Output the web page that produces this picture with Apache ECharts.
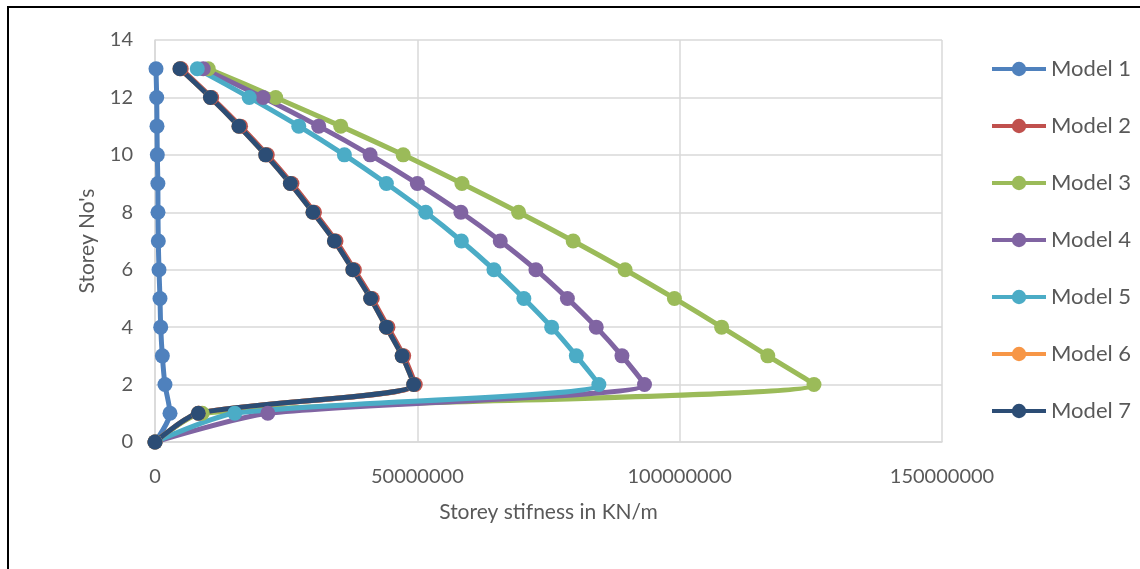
<!DOCTYPE html>
<html>
<head>
<meta charset="utf-8">
<script src="https://cdn.jsdelivr.net/npm/echarts@6/dist/echarts.min.js"></script>
<style>
  html, body { margin: 0; padding: 0; background: #fff; }
  #chart { width: 1140px; height: 569px; }
</style>
</head>
<body>
<div id="chart"></div>
<script>
// Storey numbers (y) from ground to roof
const storeys = [0, 1, 2, 3, 4, 5, 6, 7, 8, 9, 10, 11, 12, 13];

// Storey stiffness (KN/m) for each model, storey 0 .. 13
const model1 = [0, 2860000, 1900000, 1400000, 1090000, 950000, 760000, 630000, 570000, 550000, 440000, 380000, 320000, 190000];
const model2 = [0, 8400000, 49600000, 47400000, 44400000, 41400000, 38000000, 34500000, 30400000, 26100000, 21400000, 16300000, 10800000, 5000000];
const model3 = [0, 9000000, 125600000, 116800000, 108000000, 99000000, 89600000, 79700000, 69300000, 58500000, 47300000, 35400000, 23000000, 10150000];
const model4 = [0, 21500000, 93300000, 89000000, 84100000, 78600000, 72600000, 65800000, 58300000, 50000000, 41000000, 31200000, 20600000, 9200000];
const model5 = [0, 15200000, 84600000, 80300000, 75600000, 70300000, 64600000, 58400000, 51600000, 44100000, 36100000, 27400000, 17960000, 8060000];
const model6 = [0, 8250000, 49300000, 47100000, 44100000, 41100000, 37700000, 34200000, 30100000, 25800000, 21100000, 16000000, 10570000, 4760000];
const model7 = [0, 8250000, 49300000, 47100000, 44100000, 41100000, 37700000, 34200000, 30100000, 25800000, 21100000, 16000000, 10570000, 4760000];

const modelNames = ['Model 1', 'Model 2', 'Model 3', 'Model 4', 'Model 5', 'Model 6', 'Model 7'];
const modelValues = [model1, model2, model3, model4, model5, model6, model7];
const modelColors = ['#4F81BD', '#C0504D', '#9BBB59', '#8064A2', '#4BACC6', '#F79646', '#2C4D75'];

const textColor = '#595959';
const gridColor = '#d9d9d9';
const fontFamily = 'Lato, "Open Sans", sans-serif';
const seriesLineWidth = 5;

const chart = echarts.init(document.getElementById('chart'), null, { renderer: 'canvas' });

const series = modelNames.map((name, i) => ({
  name: name,
  type: 'line',
  smooth: 0.25,
  symbol: 'circle',
  symbolSize: 15,
  showAllSymbol: true,
  lineStyle: { width: seriesLineWidth, color: modelColors[i] },
  itemStyle: { color: modelColors[i] },
  emphasis: { disabled: true },
  data: modelValues[i].map((v, k) => [v, storeys[k]])
}));

chart.setOption({
  animation: false,
  backgroundColor: '#ffffff',
  textStyle: { fontFamily: fontFamily, color: textColor },
  grid: { left: 155, right: 198, top: 40, bottom: 127, containLabel: false },
  xAxis: {
    type: 'value',
    min: 0,
    max: 150000000,
    interval: 50000000,
    name: 'Storey stifness in KN/m',
    nameLocation: 'middle',
    nameGap: 60,
    nameTextStyle: { fontSize: 21, color: textColor, fontFamily: fontFamily },
    axisLine: { show: true, lineStyle: { color: gridColor, width: 1.5 } },
    axisTick: { show: false },
    axisLabel: {
      fontSize: 20, color: textColor, margin: 25, fontFamily: fontFamily,
      formatter: (v) => String(v)
    },
    splitLine: { show: true, lineStyle: { color: gridColor, width: 1.5 } }
  },
  yAxis: {
    type: 'value',
    min: 0,
    max: 14,
    interval: 2,
    name: "Storey No's",
    nameLocation: 'middle',
    nameGap: 57,
    nameRotate: 90,
    nameTextStyle: { fontSize: 21, color: textColor, fontFamily: fontFamily },
    axisLine: { show: true, lineStyle: { color: gridColor, width: 1.5 } },
    axisTick: { show: false },
    axisLabel: { fontSize: 20, color: textColor, margin: 22, fontFamily: fontFamily },
    splitLine: { show: true, lineStyle: { color: gridColor, width: 1.5 } }
  },
  legend: {
    orient: 'vertical',
    left: 985,
    top: 53,
    itemWidth: 54,
    itemHeight: 18,
    itemGap: 35,
    lineStyle: { width: 4 },
    textStyle: { fontSize: 22, color: textColor, fontFamily: fontFamily },
    data: modelNames
  },
  graphic: [
    {
      type: 'polyline',
      silent: true,
      shape: { points: [[8, 569], [8, 7], [1140, 7]] },
      style: { stroke: '#000000', lineWidth: 2, fill: null }
    }
  ],
  series: series
});
</script>
</body>
</html>
